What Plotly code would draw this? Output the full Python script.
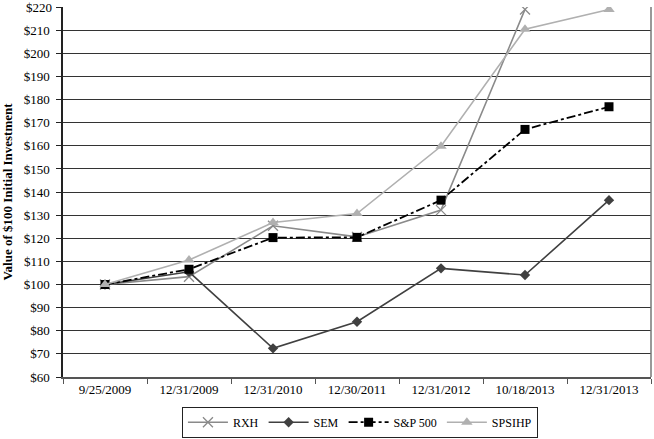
import plotly.graph_objects as go

dates = ["9/25/2009", "12/31/2009", "12/31/2010", "12/30/2011", "12/31/2012", "10/18/2013", "12/31/2013"]
rxh = [100, 103.4, 125.4, 120.6, 132.2, 219.0, None]
sem = [100, 105.5, 72.4, 83.9, 107.0, 104.1, 136.5]
sp500 = [100, 106.6, 120.3, 120.4, 136.5, 167.1, 176.9]
spsihp = [100, 110.6, 126.8, 130.7, 159.8, 210.4, 219.0]

y_ticks = list(range(60, 221, 10))
y_tick_labels = ["&#36;" + str(v) for v in y_ticks]

serif = "Liberation Serif"

fig = go.Figure()
fig.add_trace(go.Scatter(
    x=dates, y=rxh, name="RXH", mode="lines+markers",
    line=dict(color="#8a8a8a", width=1.6),
    marker=dict(symbol="x-thin-open", size=10, color="#8a8a8a", line=dict(color="#8a8a8a", width=1.3)),
))
fig.add_trace(go.Scatter(
    x=dates, y=sem, name="SEM", mode="lines+markers",
    line=dict(color="#404040", width=1.6),
    marker=dict(symbol="diamond", size=8, color="#404040"),
))
fig.add_trace(go.Scatter(
    x=dates, y=sp500, name="S&P 500", mode="lines+markers",
    line=dict(color="#000000", width=1.8, dash="dashdot"),
    marker=dict(symbol="square", size=9, color="#000000"),
))
fig.add_trace(go.Scatter(
    x=dates, y=spsihp, name="SPSIHP", mode="lines+markers",
    line=dict(color="#b0b0b0", width=1.6),
    marker=dict(symbol="triangle-up", size=10, color="#b0b0b0"),
))

fig.update_layout(
    width=654, height=439,
    margin=dict(l=63, r=3, t=7, b=62),
    paper_bgcolor="white", plot_bgcolor="white",
    font=dict(family=serif, size=13, color="black"),
    showlegend=True,
    legend=dict(
        orientation="h", x=0.505, xanchor="center",
        yref="container", y=0.003, yanchor="bottom",
        bordercolor="#222222", borderwidth=1, font=dict(family=serif, size=12),
        itemwidth=40, traceorder="normal",
    ),
    xaxis=dict(
        type="category", range=[-0.5, 6.5], automargin=False,
        showgrid=False, showline=True, linecolor="#555555", linewidth=1.5,
        ticks="outside", ticklen=5, tickcolor="#555555", tickson="boundaries",
        mirror=False, tickfont=dict(family=serif, size=13),
    ),
    yaxis=dict(
        range=[60, 220.05], tickmode="array", tickvals=y_ticks, automargin=False,
        ticktext=y_tick_labels[:-1] + [""],
        showgrid=True, gridcolor="#333333", gridwidth=1.2,
        showline=True, linecolor="#222222", linewidth=1.5,
        ticks="outside", ticklen=5, tickcolor="#222222", ticklabelstandoff=4,
        zeroline=False, tickfont=dict(family=serif, size=13),
        title=dict(text="<b>Value of &#36;100 Initial Investment</b>", font=dict(family=serif, size=13), standoff=9),
    ),
)
# top tick label (plotly hides it at the very edge), placed via the y scale
fig.add_annotation(x=0, xref="paper", y=y_ticks[-1], yref="y", text=y_tick_labels[-1],
                   showarrow=False, xanchor="right", yanchor="middle", xshift=-9,
                   font=dict(family=serif, size=13, color="black"))
# right border of plot area
fig.add_shape(type="line", xref="paper", yref="paper", x0=1, x1=1, y0=0, y1=1,
              line=dict(color="#777777", width=1.5))

fig.write_html("out.html", config={"displayModeBar": False},
               post_script="document.body.style.margin='0';document.body.style.overflow='hidden';")
